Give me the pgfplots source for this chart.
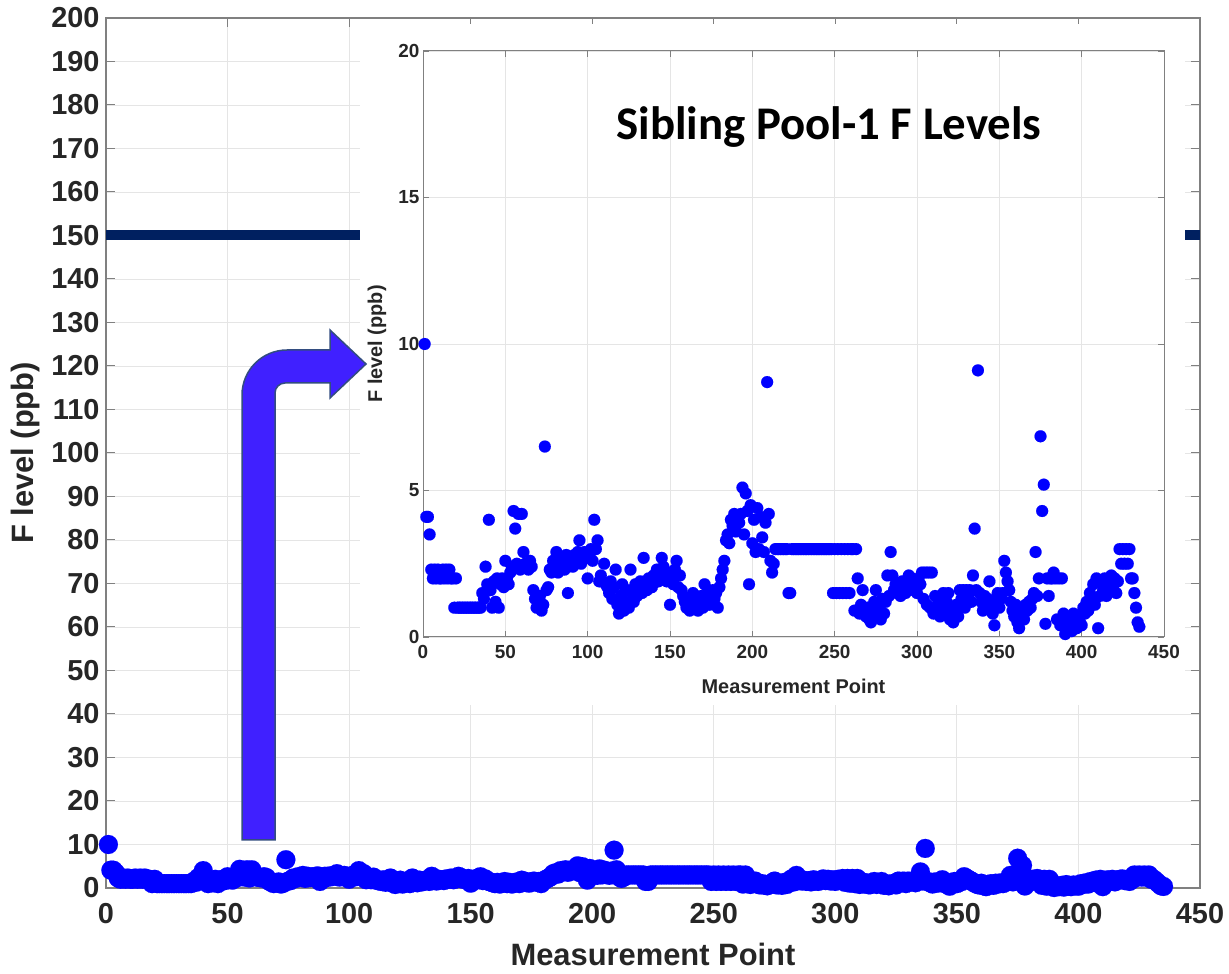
\documentclass[border=0pt]{standalone}
\usepackage{pgfplots}
\pgfplotsset{compat=1.18}
\usepackage{pgfplotstable}
\usepackage{fontspec}
\setmainfont{Liberation Sans}
\newfontfamily\calibri{Carlito}
\definecolor{dotblue}{RGB}{0,0,255}
\definecolor{navy}{RGB}{0,32,96}
\definecolor{arrowfill}{RGB}{64,32,255}
\definecolor{txt}{RGB}{38,38,38}

\pgfplotstableread[row sep=\\]{
x y\\
1 10\\ 2 4.1\\ 3 4.1\\ 4 3.5\\ 5 2.3\\ 6 2.0\\ 7 2.3\\ 8 2.0\\ 9 2.3\\ 10 2.0\\
11 2.0\\ 12 2.3\\ 13 2.0\\ 14 2.3\\ 15 2.0\\ 16 2.3\\ 17 2.0\\ 18 2.0\\ 19 1.0\\ 20 2.0\\
21 1.0\\ 22 1.0\\ 23 1.0\\ 24 1.0\\ 25 1.0\\ 26 1.0\\ 27 1.0\\ 28 1.0\\ 29 1.0\\ 30 1.0\\
31 1.0\\ 32 1.0\\ 33 1.0\\ 34 1.0\\ 35 1.0\\ 36 1.5\\ 37 1.3\\ 38 2.4\\ 39 1.8\\ 40 4.0\\
41 1.6\\ 42 1.0\\ 43 1.9\\ 44 1.2\\ 45 2.0\\ 46 1.0\\ 47 1.8\\ 48 2.0\\ 49 1.7\\ 50 2.6\\
51 2.0\\ 52 1.8\\ 53 2.2\\ 54 2.4\\ 55 4.3\\ 56 3.7\\ 57 2.5\\ 58 4.2\\ 59 2.3\\ 60 4.2\\
61 2.9\\ 62 2.5\\ 63 2.4\\ 64 2.3\\ 65 2.6\\ 66 2.4\\ 67 1.6\\ 68 1.3\\ 69 1.0\\ 70 1.2\\
71 1.4\\ 72 0.9\\ 73 1.1\\ 74 6.5\\ 75 1.6\\ 76 1.7\\ 77 2.3\\ 78 2.2\\ 79 2.6\\ 80 2.5\\
81 2.9\\ 82 2.2\\ 83 2.7\\ 84 2.4\\ 85 2.6\\ 86 2.3\\ 87 2.8\\ 88 1.5\\ 89 2.5\\ 90 2.7\\
91 2.4\\ 92 2.8\\ 93 2.6\\ 94 2.9\\ 95 3.3\\ 96 2.5\\ 97 2.7\\ 98 2.9\\ 99 2.7\\ 100 2.0\\
101 2.8\\ 102 3.0\\ 103 2.6\\ 104 4.0\\ 105 3.0\\ 106 3.3\\ 107 1.9\\ 108 2.1\\ 109 1.9\\ 110 2.5\\
111 1.8\\ 112 1.7\\ 113 1.5\\ 114 1.9\\ 115 1.3\\ 116 1.7\\ 117 2.3\\ 118 1.1\\ 119 0.8\\ 120 1.4\\
121 1.8\\ 122 0.9\\ 123 1.2\\ 124 1.6\\ 125 1.0\\ 126 2.3\\ 127 1.5\\ 128 1.2\\ 129 1.8\\ 130 1.4\\
131 1.7\\ 132 1.9\\ 133 1.5\\ 134 2.7\\ 135 1.8\\ 136 1.6\\ 137 2.0\\ 138 1.9\\ 139 1.7\\ 140 2.1\\
141 2.0\\ 142 2.3\\ 143 1.9\\ 144 2.2\\ 145 2.7\\ 146 2.4\\ 147 2.0\\ 148 1.9\\ 149 2.2\\ 150 1.1\\
151 2.0\\ 152 1.8\\ 153 2.3\\ 154 2.6\\ 155 1.7\\ 156 2.1\\ 157 1.6\\ 158 1.4\\ 159 1.2\\ 160 1.0\\
161 1.3\\ 162 0.9\\ 163 1.1\\ 164 1.5\\ 165 1.0\\ 166 1.3\\ 167 0.9\\ 168 1.2\\ 169 1.4\\ 170 1.0\\
171 1.8\\ 172 1.3\\ 173 1.5\\ 174 1.1\\ 175 1.4\\ 176 1.6\\ 177 1.3\\ 178 1.5\\ 179 1.0\\ 180 1.7\\
181 2.0\\ 182 2.3\\ 183 2.6\\ 184 3.3\\ 185 3.5\\ 186 3.2\\ 187 4.0\\ 188 3.8\\ 189 4.2\\ 190 3.6\\
191 4.1\\ 192 3.9\\ 193 4.2\\ 194 5.1\\ 195 3.5\\ 196 4.9\\ 197 4.3\\ 198 1.8\\ 199 4.5\\ 200 3.2\\
201 4.0\\ 202 2.9\\ 203 4.4\\ 204 3.0\\ 205 4.1\\ 206 3.4\\ 207 2.9\\ 208 3.9\\ 209 8.7\\ 210 4.2\\
211 2.6\\ 212 2.2\\ 213 2.5\\ 214 3.0\\ 215 3.0\\ 216 3.0\\ 217 3.0\\ 218 3.0\\ 219 3.0\\ 220 3.0\\
221 3.0\\ 222 1.5\\ 223 1.5\\ 224 3.0\\ 225 3.0\\ 226 3.0\\ 227 3.0\\ 228 3.0\\ 229 3.0\\ 230 3.0\\
231 3.0\\ 232 3.0\\ 233 3.0\\ 234 3.0\\ 235 3.0\\ 236 3.0\\ 237 3.0\\ 238 3.0\\ 239 3.0\\ 240 3.0\\
241 3.0\\ 242 3.0\\ 243 3.0\\ 244 3.0\\ 245 3.0\\ 246 3.0\\ 247 3.0\\ 248 3.0\\ 249 1.5\\ 250 3.0\\
251 1.5\\ 252 3.0\\ 253 1.5\\ 254 3.0\\ 255 1.5\\ 256 3.0\\ 257 1.5\\ 258 3.0\\ 259 1.5\\ 260 3.0\\
261 3.0\\ 262 0.9\\ 263 3.0\\ 264 2.0\\ 265 0.8\\ 266 1.1\\ 267 1.6\\ 268 0.9\\ 269 0.7\\ 270 1.0\\
271 0.6\\ 272 0.5\\ 273 0.8\\ 274 1.2\\ 275 1.6\\ 276 0.7\\ 277 1.0\\ 278 0.6\\ 279 1.3\\ 280 0.8\\
281 1.2\\ 282 2.1\\ 283 1.4\\ 284 2.9\\ 285 2.1\\ 286 1.6\\ 287 1.8\\ 288 1.5\\ 289 1.7\\ 290 1.4\\
291 1.9\\ 292 1.6\\ 293 1.5\\ 294 1.8\\ 295 2.1\\ 296 1.7\\ 297 2.0\\ 298 1.6\\ 299 1.9\\ 300 1.5\\
301 2.0\\ 302 1.8\\ 303 2.2\\ 304 1.3\\ 305 2.2\\ 306 1.1\\ 307 2.2\\ 308 1.0\\ 309 2.2\\ 310 0.8\\
311 1.4\\ 312 0.9\\ 313 1.2\\ 314 0.7\\ 315 1.0\\ 316 1.5\\ 317 0.8\\ 318 1.2\\ 319 1.5\\ 320 0.6\\
321 1.0\\ 322 0.5\\ 323 0.8\\ 324 1.1\\ 325 0.7\\ 326 1.6\\ 327 1.3\\ 328 1.6\\ 329 1.0\\ 330 1.6\\
331 1.4\\ 332 1.6\\ 333 1.2\\ 334 2.1\\ 335 3.7\\ 336 1.6\\ 337 9.1\\ 338 1.5\\ 339 1.2\\ 340 0.9\\
341 1.4\\ 342 1.1\\ 343 1.3\\ 344 1.9\\ 345 1.0\\ 346 0.8\\ 347 0.4\\ 348 1.2\\ 349 1.5\\ 350 1.0\\
351 1.3\\ 352 1.5\\ 353 2.6\\ 354 2.2\\ 355 1.9\\ 356 1.6\\ 357 1.2\\ 358 0.9\\ 359 0.7\\ 360 1.1\\
361 0.5\\ 362 0.3\\ 363 0.8\\ 364 1.0\\ 365 0.6\\ 366 1.1\\ 367 0.9\\ 368 1.2\\ 369 1.0\\ 370 1.3\\
371 1.5\\ 372 2.9\\ 373 1.4\\ 374 2.0\\ 375 6.85\\ 376 4.3\\ 377 5.2\\ 378 0.45\\ 379 2.0\\ 380 1.4\\
381 2.0\\ 382 2.0\\ 383 2.2\\ 384 2.0\\ 385 0.6\\ 386 2.0\\ 387 0.4\\ 388 2.0\\ 389 0.8\\ 390 0.1\\
391 0.5\\ 392 0.3\\ 393 0.6\\ 394 0.2\\ 395 0.8\\ 396 0.4\\ 397 0.3\\ 398 0.7\\ 399 0.5\\ 400 0.4\\
401 1.0\\ 402 0.8\\ 403 1.2\\ 404 0.9\\ 405 1.5\\ 406 1.3\\ 407 1.8\\ 408 1.1\\ 409 2.0\\ 410 0.3\\
411 1.4\\ 412 1.9\\ 413 1.6\\ 414 2.0\\ 415 1.4\\ 416 1.8\\ 417 2.0\\ 418 2.1\\ 419 1.7\\ 420 2.0\\
421 1.5\\ 422 1.9\\ 423 3.0\\ 424 2.5\\ 425 3.0\\ 426 2.5\\ 427 3.0\\ 428 2.5\\ 429 3.0\\ 430 2.0\\
431 2.0\\ 432 1.5\\ 433 1.0\\ 434 0.5\\ 435 0.35\\
}\data

\begin{document}
\begin{tikzpicture}
\path[use as bounding box] (0,0) rectangle (1229bp,974bp);
% main axis
\begin{axis}[
  at={(106bp,86bp)}, anchor=south west, scale only axis,
  width=1094bp, height=870bp,
  xmin=0, xmax=450, ymin=0, ymax=200,
  xtick={0,50,...,450}, ytick={0,10,...,200},
  grid=major, major grid style={draw=black!10, line width=0.8bp},
  axis line style={draw=black!50, line width=1.2bp},
  tick style={draw=black!50, line width=1bp},
  tick align=inside, major tick length=9bp,
  ticklabel style={font=\fontsize{29}{29}\selectfont\bfseries, text=txt},
  /pgf/number format/assume math mode=true,
  xticklabel style={yshift=-12bp},
  yticklabel style={xshift=-3bp},
  xlabel={Measurement Point}, ylabel={F level (ppb)},
  label style={font=\fontsize{31}{31}\selectfont\bfseries, text=txt},
  xlabel style={at={(axis description cs:0.5,0)}, anchor=center, yshift=-66bp},
  ylabel style={at={(axis description cs:-0.074,0.5)}, anchor=center},
  clip=false,
]
\addplot[navy, line width=10bp] coordinates {(0,150) (450,150)};
\addplot[only marks, mark=*, color=dotblue, mark size=9.5bp, mark options={solid, fill=dotblue, draw=dotblue, line width=0.1bp}] table[x=x, y=y] {\data};
\end{axis}
% inset background
\fill[white] (360bp,269bp) rectangle (1185bp,950bp);
% inset axis
\begin{axis}[
  at={(423bp,337bp)}, anchor=south west, scale only axis,
  width=741bp, height=586bp,
  xmin=0, xmax=450, ymin=0, ymax=20,
  xtick={0,50,...,450}, ytick={0,5,...,20},
  grid=major, major grid style={draw=black!10, line width=0.7bp},
  axis line style={draw=black!50, line width=1bp},
  tick style={draw=black!50, line width=0.8bp},
  tick align=inside, major tick length=6bp,
  ticklabel style={font=\fontsize{19}{19}\selectfont\bfseries, text=txt},
  /pgf/number format/assume math mode=true,
  xticklabel style={yshift=-5bp},
  xlabel={Measurement Point}, ylabel={F level (ppb)},
  label style={font=\fontsize{20}{20}\selectfont\bfseries, text=txt},
  xlabel style={at={(axis description cs:0.5,0)}, anchor=center, yshift=-49bp},
  ylabel style={at={(axis description cs:-0.062,0.5)}, anchor=center},
]
\addplot[only marks, mark=*, color=dotblue, mark size=6bp, mark options={solid, fill=dotblue, draw=dotblue, line width=0.1bp}] table[x=x, y=y] {\data};
\end{axis}
% title
\node[font=\calibri\bfseries\fontsize{47}{47}\selectfont, text=black, anchor=center] at (829bp,847bp) {Sibling Pool-1 F Levels};
% bent arrow
\draw[fill=arrowfill, draw=navy!80, line width=1.5bp]
  (242bp,134bp) -- (242bp,579bp) arc[start angle=180, end angle=90, radius=45bp]
  -- (330bp,624bp) -- (330bp,644bp) -- (366bp,610bp) -- (330bp,576bp) -- (330bp,591bp)
  -- (285bp,591bp) arc[start angle=90, end angle=180, radius=10bp]
  -- (275bp,134bp) -- cycle;
\end{tikzpicture}
\end{document}
